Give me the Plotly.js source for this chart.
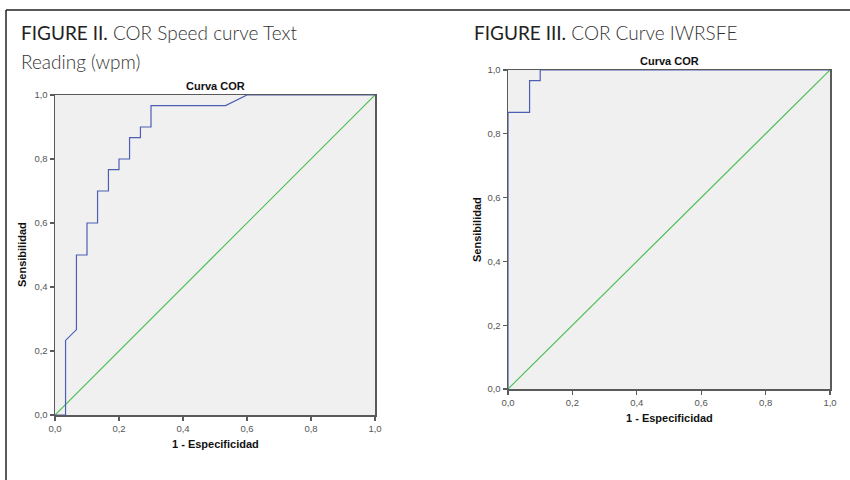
<!DOCTYPE html>
<html>
<head>
<meta charset="utf-8">
<script src="https://cdn.plot.ly/plotly-3.0.1.min.js"></script>
<style>html,body{margin:0;padding:0;background:#fff;}#chart{width:850px;height:480px;}</style>
</head>
<body>
<div id="chart"></div>
<script>
// Figure II: COR curve, speed text reading (wpm)
const fig2_fpr  = [0, 0.033, 0.033, 0.067, 0.067, 0.1, 0.1, 0.133, 0.133, 0.167, 0.167, 0.2, 0.2, 0.233, 0.233, 0.267, 0.267, 0.3, 0.3, 0.533, 0.6, 1.0];
const fig2_sens = [0, 0, 0.233, 0.267, 0.5, 0.5, 0.6, 0.6, 0.7, 0.7, 0.767, 0.767, 0.8, 0.8, 0.867, 0.867, 0.9, 0.9, 0.967, 0.967, 1.0, 1.0];
// Figure III: COR curve IWRSFE
const fig3_fpr  = [0, 0, 0.067, 0.067, 0.1, 0.1, 1.0];
const fig3_sens = [0, 0.867, 0.867, 0.967, 0.967, 1.0, 1.0];
// Reference diagonal
const ref_x = [0, 1];
const ref_y = [0, 1];
const tickVals = [0, 0.2, 0.4, 0.6, 0.8, 1.0];

const W = 850, H = 480;
const blue = '#4b5fb4', green = '#4dbf55';

const traces = [
  {x: ref_x, y: ref_y, xaxis: 'x', yaxis: 'y', mode: 'lines', line: {color: green, width: 1.2}, hoverinfo: 'skip'},
  {x: fig2_fpr, y: fig2_sens, xaxis: 'x', yaxis: 'y', mode: 'lines', line: {color: blue, width: 1.2}},
  {x: ref_x, y: ref_y, xaxis: 'x2', yaxis: 'y2', mode: 'lines', line: {color: green, width: 1.2}, hoverinfo: 'skip'},
  {x: fig3_fpr, y: fig3_sens, xaxis: 'x2', yaxis: 'y2', mode: 'lines', line: {color: blue, width: 1.2}}
];

function ax(domain, anchor) {
  return {
    domain: domain, anchor: anchor, range: [0, 1], tickvals: tickVals, tickformat: '.1f',
    showgrid: false, zeroline: false, showline: true, mirror: true,
    linecolor: '#5a5a5a', linewidth: 1.5, ticks: 'outside', ticklen: 4, tickwidth: 1.2, tickcolor: '#5a5a5a',
    tickfont: {family: 'Arial, Liberation Sans', size: 9.5, color: '#555'}, fixedrange: true
  };
}
const px = v => v / W, py = v => 1 - v / H;

const titleFont = {family: 'Lato, Open Sans', size: 19, color: '#333', weight: 300};
const boldFont = {family: 'Arial, Liberation Sans', size: 11, color: '#111', weight: 'bold'};
const lead = s => '<span style="font-weight:400;color:#222">' + s + '</span>';

const layout = {
  width: W, height: H, margin: {l: 0, r: 0, t: 0, b: 0},
  paper_bgcolor: '#fff', plot_bgcolor: '#f0f0f0', showlegend: false, separators: ',.',
  xaxis: ax([px(55), px(375)], 'y'),
  yaxis: ax([py(415), py(95)], 'x'),
  xaxis2: ax([px(508), px(830)], 'y2'),
  yaxis2: ax([py(389), py(70)], 'x2'),
  shapes: [
    {type: 'line', xref: 'paper', yref: 'paper', x0: px(6), x1: px(6), y0: 0, y1: py(10), line: {color: '#222', width: 1.5}},
    {type: 'line', xref: 'paper', yref: 'paper', x0: px(6), x1: 1, y0: py(10), y1: py(10), line: {color: '#222', width: 1.5}}
  ],
  annotations: [
    {text: lead('FIGURE II.') + ' COR Speed curve Text', x: px(19), y: py(33), xref: 'paper', yref: 'paper', xanchor: 'left', yanchor: 'middle', showarrow: false, font: titleFont},
    {text: 'Reading (wpm)', x: px(19), y: py(61), xref: 'paper', yref: 'paper', xanchor: 'left', yanchor: 'middle', showarrow: false, font: titleFont},
    {text: lead('FIGURE III.') + ' COR Curve IWRSFE', x: px(472), y: py(33), xref: 'paper', yref: 'paper', xanchor: 'left', yanchor: 'middle', showarrow: false, font: titleFont},
    {text: 'Curva COR', x: px(215), y: py(86), xref: 'paper', yref: 'paper', xanchor: 'center', yanchor: 'middle', showarrow: false, font: boldFont},
    {text: 'Curva COR', x: px(669), y: py(61), xref: 'paper', yref: 'paper', xanchor: 'center', yanchor: 'middle', showarrow: false, font: boldFont},
    {text: '1 - Especificidad', x: px(215), y: py(444), xref: 'paper', yref: 'paper', xanchor: 'center', yanchor: 'middle', showarrow: false, font: boldFont},
    {text: '1 - Especificidad', x: px(669), y: py(418), xref: 'paper', yref: 'paper', xanchor: 'center', yanchor: 'middle', showarrow: false, font: boldFont},
    {text: 'Sensibilidad', x: px(22), y: py(255), xref: 'paper', yref: 'paper', xanchor: 'center', yanchor: 'middle', textangle: -90, showarrow: false, font: boldFont},
    {text: 'Sensibilidad', x: px(477), y: py(230), xref: 'paper', yref: 'paper', xanchor: 'center', yanchor: 'middle', textangle: -90, showarrow: false, font: boldFont}
  ]
};

Plotly.newPlot('chart', traces, layout, {displayModeBar: false, staticPlot: true});
</script>
</body>
</html>
